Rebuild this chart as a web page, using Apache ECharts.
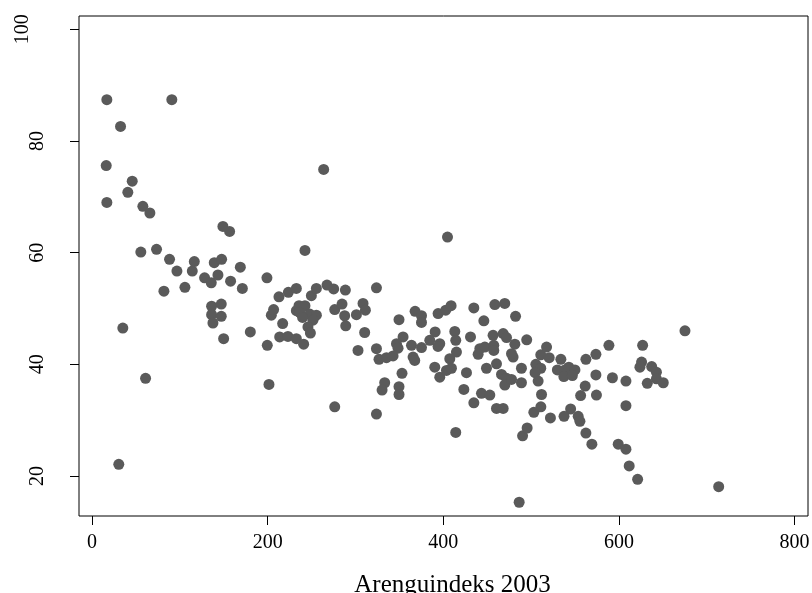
<!DOCTYPE html>
<html>
<head>
<meta charset="utf-8">
<script src="https://cdn.jsdelivr.net/npm/echarts@6/dist/echarts.min.js"></script>
<style>
  html, body { margin: 0; padding: 0; background: #fff; }
  #chart { width: 812px; height: 593px; }
</style>
</head>
<body>
<div id="chart"></div>
<script>
// Arenguindeks 2003 (x) values
const arenguindeks = [
  16.9, 90.9, 32.5, 16.2, 45.8, 40.8, 16.9, 57.9, 65.9, 149.1,
  156.7, 55.6, 73.5, 88.3, 96.7, 116.5, 114.2, 128.2, 135.8, 139.2,
  147.6, 143.4, 157.8, 168.9, 171.2, 81.9, 105.8, 199.2, 136.2, 147.2,
  136.2, 147.2, 137.7, 149.9, 180.3, 35.1, 61.0, 30.5, 201.5, 199.6,
  204.2, 206.8, 212.9, 217.1, 213.7, 223.1, 232.7, 223.6, 232.7, 232.7,
  263.8, 404.8, 242.5, 249.8, 255.5, 267.6, 275.2, 288.5, 323.9, 241.0,
  235.7, 242.5, 236.5, 247.9, 255.5, 251.6, 245.9, 248.7, 276.4, 284.7,
  287.7, 288.9, 301.1, 308.6, 311.3, 310.5, 349.6, 367.9, 375.2, 375.2,
  394.1, 402.8, 408.9, 390.7, 434.8, 446.2, 458.7, 276.4, 302.9, 239.8,
  323.9, 470.0, 482.3, 354.2, 346.7, 348.5, 326.8, 335.3, 342.8, 363.8,
  375.2, 365.6, 367.5, 353.0, 333.3, 330.3, 349.6, 349.6, 323.9, 384.6,
  396.0, 394.0, 413.1, 414.2, 415.0, 407.4, 390.3, 396.0, 403.6, 409.3,
  426.4, 423.4, 434.8, 431.0, 443.5, 453.0, 460.6, 468.2, 441.6, 447.3,
  439.7, 456.7, 457.5, 468.2, 472.0, 457.5, 449.2, 460.6, 466.3, 472.0,
  470.1, 477.7, 481.5, 479.5, 477.7, 489.0, 489.0, 414.2, 486.4, 490.3,
  495.5, 503.1, 511.1, 511.9, 505.4, 511.0, 504.5, 508.0, 511.0, 517.6,
  520.6, 533.9, 529.9, 538.5, 543.0, 549.9, 537.3, 547.0, 562.4, 573.8,
  588.6, 627.0, 625.8, 623.9, 637.3, 642.7, 642.7, 632.3, 650.5, 608.0,
  592.6, 573.8, 561.6, 556.4, 574.4, 608.0, 545.0, 537.5, 553.6, 555.6,
  522.0, 562.4, 569.2, 599.2, 608.0, 611.7, 621.3, 675.2, 713.6, 495.0
];
// y values
const naitaja = [
  87.4, 87.4, 82.6, 75.6, 72.8, 70.8, 69.0, 68.3, 67.1, 64.7,
  63.8, 60.1, 60.6, 58.8, 56.7, 58.4, 56.7, 55.5, 54.6, 58.2,
  58.8, 56.0, 54.9, 57.4, 53.6, 53.1, 53.8, 55.5, 50.4, 50.8,
  48.9, 48.6, 47.4, 44.6, 45.8, 46.5, 37.5, 22.1, 36.4, 43.4,
  48.8, 49.8, 52.1, 47.3, 44.9, 45.0, 44.6, 52.9, 53.6, 49.6,
  74.9, 62.8, 60.4, 52.3, 53.6, 54.2, 53.5, 53.3, 53.7, 43.6,
  50.5, 50.5, 49.3, 49.0, 48.8, 47.9, 46.7, 45.6, 49.8, 50.8,
  48.7, 46.9, 48.9, 50.9, 49.7, 45.7, 48.0, 49.5, 48.7, 47.5,
  49.1, 49.7, 50.5, 45.8, 50.1, 47.8, 50.7, 32.4, 42.5, 48.4,
  42.8, 50.9, 48.6, 44.9, 43.7, 42.9, 40.9, 41.2, 41.5, 43.4,
  43.0, 41.3, 40.7, 38.4, 36.7, 35.4, 36.0, 34.6, 31.1, 44.3,
  43.7, 43.2, 45.9, 44.3, 42.2, 41.0, 39.5, 37.7, 38.9, 39.3,
  38.5, 35.5, 33.1, 44.9, 34.8, 34.5, 32.1, 32.1, 42.8, 43.1,
  41.8, 45.2, 43.4, 45.5, 44.8, 42.5, 39.3, 40.1, 38.2, 37.5,
  36.3, 37.3, 43.6, 41.3, 41.9, 39.3, 36.7, 27.8, 15.3, 27.2,
  28.6, 31.4, 32.4, 34.6, 40.0, 39.3, 38.5, 37.0, 41.7, 43.1,
  41.2, 40.9, 39.0, 39.0, 39.5, 39.0, 37.8, 38.0, 40.9, 41.8,
  43.4, 43.4, 40.4, 39.5, 39.6, 38.6, 37.4, 36.6, 36.7, 37.0,
  37.6, 38.1, 36.1, 34.4, 34.5, 32.6, 32.0, 30.7, 30.7, 29.8,
  30.4, 27.7, 25.7, 25.7, 24.8, 21.8, 19.4, 46.0, 18.1, 44.4
];
const xTicks = [0, 200, 400, 600, 800];
const yTicks = [20, 40, 60, 80, 100];
const xTitle = 'Arenguindeks 2003';

const points = arenguindeks.map((x, i) => [x, naitaja[i]]);
const font = "'Liberation Serif', 'Times New Roman', serif";

const chart = echarts.init(document.getElementById('chart'), null, { renderer: 'canvas' });
chart.setOption({
  animation: false,
  backgroundColor: '#ffffff',
  grid: {
    left: 79, top: 16, right: 4, bottom: 77,
    outerBoundsMode: 'none',
    containLabel: false,
    show: true, borderColor: '#000', borderWidth: 1, backgroundColor: 'transparent'
  },
  xAxis: {
    type: 'value',
    min: -14.8, max: 815.3,
    name: xTitle,
    nameLocation: 'middle',
    nameGap: 57,
    nameTextStyle: { fontFamily: font, fontSize: 25, color: '#000', padding: [0, 0, 0, 18] },
    axisLine: { show: false, onZero: false },
    splitLine: { show: false },
    axisTick: { show: true, inside: false, length: 9, customValues: xTicks, lineStyle: { color: '#000', width: 1 } },
    axisLabel: { customValues: xTicks, fontFamily: font, fontSize: 20, color: '#000', margin: 17 }
  },
  yAxis: {
    type: 'value',
    min: 12.84, max: 102.38,
    axisLine: { show: false, onZero: false },
    splitLine: { show: false },
    axisTick: { show: true, inside: false, length: 9, customValues: yTicks, lineStyle: { color: '#000', width: 1 } },
    axisLabel: {
      customValues: yTicks, rotate: 90, fontFamily: font, fontSize: 20, color: '#000', margin: 31,
      formatter: function (v) { return v === 100 ? '{b|' + v + '}' : '{a|' + v + '}'; },
      rich: {
        a: { fontFamily: font, fontSize: 20, color: '#000', lineHeight: 20 },
        b: { fontFamily: font, fontSize: 20, color: '#000', lineHeight: 50 }
      }
    }
  },
  series: [{
    type: 'scatter',
    data: points,
    symbol: 'circle',
    symbolSize: 11,
    itemStyle: { color: '#5a5a5a', opacity: 1 },
    emphasis: { disabled: true }
  }]
});
</script>
</body>
</html>
